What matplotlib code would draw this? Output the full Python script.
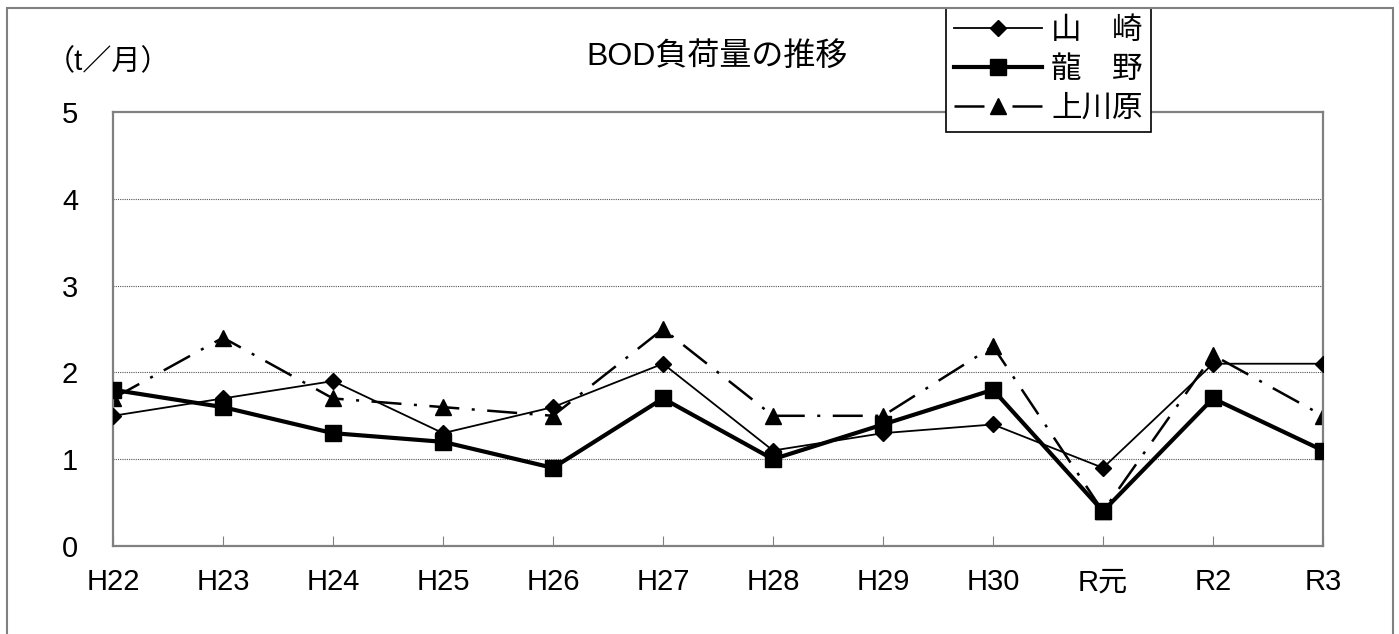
import matplotlib as mpl
mpl.use('Agg')
import matplotlib.pyplot as plt
from matplotlib.patches import Rectangle

plt.rcParams['font.family'] = ['Liberation Sans', 'Noto Sans CJK JP', 'DejaVu Sans']

years = ['H22', 'H23', 'H24', 'H25', 'H26', 'H27', 'H28', 'H29', 'H30', 'R元', 'R2', 'R3']
yamasaki = [1.5, 1.7, 1.9, 1.3, 1.6, 2.1, 1.1, 1.3, 1.4, 0.9, 2.1, 2.1]
tatsuno = [1.8, 1.6, 1.3, 1.2, 0.9, 1.7, 1.0, 1.4, 1.8, 0.4, 1.7, 1.1]
kamikawara = [1.7, 2.4, 1.7, 1.6, 1.5, 2.5, 1.5, 1.5, 2.3, 0.4, 2.2, 1.5]
labels = ['山　崎', '龍　野', '上川原']

W, H = 1399, 634
fig = plt.figure(figsize=(W / 100, H / 100), dpi=100)
ax = fig.add_axes([113 / W, 1 - 546 / H, (1323 - 113) / W, (546 - 112) / H])

# outer chart frame
fig.patches.append(Rectangle((7 / W, -0.05), (1393 - 7) / W, 1.05 - 8 / H,
                             transform=fig.transFigure, fill=False,
                             edgecolor='#808080', linewidth=1.5))

x = range(len(years))
ax.plot(x, yamasaki, color='black', lw=1.3, marker='D', ms=8, label=labels[0], zorder=4)
ax.plot(x, tatsuno, color='black', lw=3.0, marker='s', ms=12, label=labels[1], zorder=3)
ax.plot(x, kamikawara, color='black', lw=1.8, marker='^', ms=11,
        linestyle=(0, (12, 5, 1.2, 5)), label=labels[2], zorder=2)

ax.set_xlim(0, len(years) - 1)
ax.set_ylim(0, 5)
ax.set_yticks([0, 1, 2, 3, 4, 5])
ax.set_xticks(list(x))
ax.set_xticklabels(years)
ax.tick_params(axis='y', length=0, pad=31, labelsize=21)
ax.tick_params(axis='x', direction='in', length=7, color='#808080', pad=16, labelsize=21)
for lab in ax.get_yticklabels():
    lab.set_horizontalalignment('center')
for y in [1, 2, 3, 4]:
    ax.axhline(y, color='#555555', lw=0.8, linestyle=(0, (1, 1)), zorder=1)
for s in ax.spines.values():
    s.set_color('#808080')
    s.set_linewidth(1.6)

fig.text(717 / W, 1 - 57 / H, 'BOD負荷量の推移', ha='center', va='center', fontsize=23)
fig.text(46 / W, 1 - 62 / H, '（t／月）', ha='left', va='center', fontsize=21)

leg = ax.legend(loc='upper left', bbox_to_anchor=(946 / W, 1 - 8 / H),
                bbox_transform=fig.transFigure, borderaxespad=0, fontsize=22,
                handlelength=2.9, handletextpad=0.3, labelspacing=0.3,
                borderpad=0.25, fancybox=False, framealpha=1)
leg.get_frame().set_edgecolor('black')
leg.get_frame().set_linewidth(1.2)

plt.savefig('out.png', dpi=100)
